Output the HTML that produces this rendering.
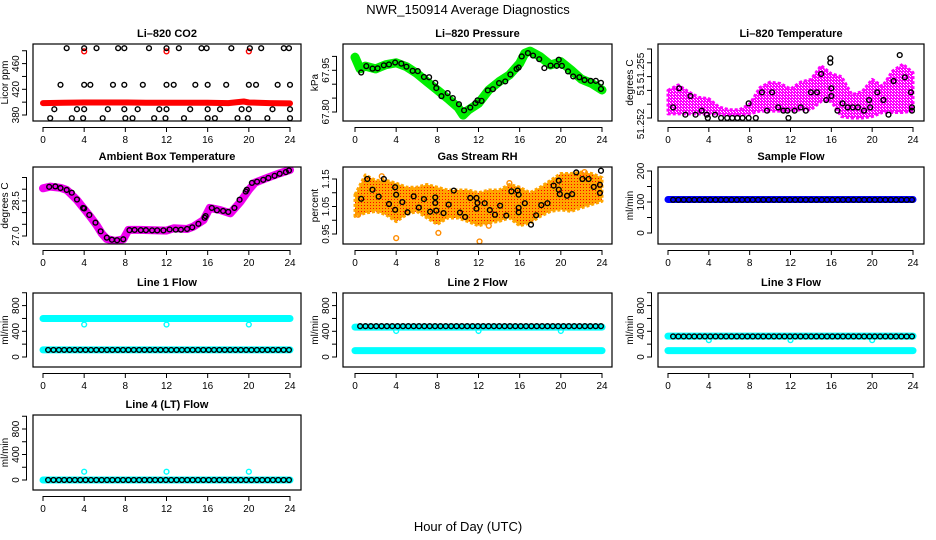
<!DOCTYPE html>
<html><head><meta charset="utf-8">
<style>
html,body{margin:0;padding:0;background:#fff;}
svg{display:block;font-family:"Liberation Sans",sans-serif;}
</style></head>
<body>
<svg id="chart" width="936" height="540" viewBox="0 0 936 540" xmlns="http://www.w3.org/2000/svg">
<defs>
<pattern id="rhpat" width="3" height="3" patternUnits="userSpaceOnUse"><rect width="3" height="3" fill="#ffa500"/><rect x="1" y="1" width="1" height="1" fill="#ff0000"/></pattern>
<pattern id="ltpat" width="3" height="3" patternUnits="userSpaceOnUse"><rect width="3" height="3" fill="#ff00ff"/><rect x="1" y="1" width="1" height="1" fill="#ffffff"/><rect x="0" y="0" width="1" height="1" fill="#ffffff"/></pattern>
</defs>
<text x="468" y="14" text-anchor="middle" font-size="13">NWR_150914  Average Diagnostics</text>
<text x="468" y="531" text-anchor="middle" font-size="13">Hour of Day (UTC)</text>
</svg>
<script>
// ---- data ----
const xTicks=[0,4,8,12,16,20,24];
// CO2
const co2RedHours=[0,2,4,6,8,10,12,14,16,18,19.5,20,22,24];
const co2RedVals=[398.5,399,399.5,399.5,399.5,399,399,399,399,398.5,401,399.5,398.5,398];
const co2RedSpikeHours=[4,12,20];
const co2RedSpikeVals=[479,479,479];
const co2BlkHours=[2.3,4.0,5.2,7.3,7.9,10.3,12.0,13.2,15.4,15.9,18.3,20.1,21.2,23.4,23.9,
1.7,4.0,4.6,6.8,7.9,9.7,12.0,12.7,14.8,16.0,17.8,20.0,20.7,22.8,24.0,
1.1,3.3,4.0,6.3,7.9,9.2,11.3,12.0,14.3,16.0,17.2,19.3,20.0,22.3,24.0,
0.7,2.8,3.9,5.8,8.0,8.7,10.8,11.9,13.7,16.0,16.7,18.9,19.9,21.8,24.0];
const co2BlkVals=[484,484,484,484,484,484,484,484,484,484,484,484,484,484,484,
427,427,427,427,427,427,427,427,427,427,427,427,427,427,427,
389,389,389,389,389,389,389,389,389,389,389,389,389,389,389,
375,375,375,375,375,375,375,375,375,375,375,375,375,375,375];
// Pressure
const presHours=[0,0.5,1,2,3,4,5,6,7,8,9,10,10.5,11,12,13,14,15,16,16.5,17,18,19,20,21,22,23,24];
const presVals=[67.997,67.955,67.965,67.955,67.97,67.977,67.963,67.939,67.909,67.879,67.849,67.817,67.789,67.807,67.831,67.879,67.909,67.933,67.975,68.011,68.019,67.999,67.969,67.981,67.951,67.918,67.903,67.879];
const presBlkHours=[0.6,1.1,1.7,2.2,2.8,3.3,3.9,4.5,5.0,5.6,6.1,6.7,7.2,7.8,7.9,8.4,9.0,9.5,10.1,10.6,11.2,11.7,11.9,12.3,12.9,13.4,14.0,14.6,15.1,15.7,15.9,16.2,16.8,17.3,17.9,18.4,19.0,19.6,19.8,20.1,20.7,21.2,21.8,22.3,22.9,23.4,23.9,23.9];
const presBlkVals=[67.942,67.965,67.956,67.957,67.968,67.971,67.978,67.974,67.963,67.948,67.947,67.926,67.925,67.905,67.886,67.857,67.868,67.85,67.828,67.806,67.816,67.832,67.842,67.84,67.878,67.882,67.904,67.91,67.935,67.955,67.96,68.0,68.012,68.003,67.99,67.958,67.967,67.966,67.988,67.966,67.946,67.928,67.925,67.915,67.912,67.912,67.905,67.883];
// Li-820 temperature (offset from 51.252, milli-degC)
const ltHours=[0,1,2,3,4,5,6,7,8,9,10,11,12,13,14,15,16,17,18,19,20,21,22,23,24];
const ltUpper=[2.0,2.4,1.9,1.5,1.4,0.8,0.6,0.6,1.0,2.2,2.6,2.5,2.1,2.6,2.8,3.8,3.2,3.0,1.7,1.9,2.8,2.3,3.4,3.9,3.3];
const ltLower=[0.3,0.3,0.3,0.3,0.3,0.3,0.2,0.2,0.3,0.5,0.5,0.5,0.5,0.6,0.6,1.2,1.2,0.1,0.0,0.0,0.1,0.4,0.4,0.4,0.5];
const ltBlkHours=[0.5,1.1,2.2,1.7,2.7,3.3,3.8,3.9,4.6,5.2,5.8,6.3,6.8,7.3,7.9,7.9,8.6,9.2,9.7,10.2,10.8,11.3,11.7,11.8,12.4,13.0,13.5,14.0,14.6,15.0,15.5,15.9,15.9,16.0,16.0,16.6,17.1,17.6,18.1,18.6,19.2,19.7,19.8,20.5,21.1,21.6,22.1,22.7,23.2,23.8,23.9,23.9];
const ltBlkVals=[0.77,2.15,1.59,0.24,0.24,0.53,0.24,0.0,0.24,0.0,0.0,0.0,0.0,0.0,0.0,1.06,0.0,1.86,0.53,1.86,0.77,0.53,0.53,0.0,0.53,0.77,0.53,1.86,1.86,3.19,1.3,4.32,4.01,2.15,1.59,0.53,1.06,0.77,0.77,0.77,0.53,1.3,0.77,1.86,1.3,0.24,2.68,4.56,2.95,1.86,0.77,0.53];
// Ambient box temperature
const ambHours=[0,0.7,1.7,2.3,3.3,3.9,4.6,5.2,5.7,6.2,7.0,7.8,8.3,9.4,12.0,12.7,14.0,14.6,15.6,16.2,17.2,18.2,19.2,20.0,20.6,21.7,23.0,24.0];
const ambVals=[29.04,29.11,29.06,28.97,28.54,28.21,27.83,27.47,27.11,26.87,26.79,26.86,27.26,27.26,27.23,27.33,27.3,27.4,27.68,28.2,28.11,27.97,28.47,28.97,29.28,29.47,29.68,29.82];
const ambBlkHours=[0.6,1.2,1.7,2.3,2.8,3.3,3.9,4.0,4.5,5.1,5.6,6.2,6.7,7.2,7.8,8.4,8.9,9.5,10.0,10.6,11.1,11.7,12.3,12.9,13.4,14.0,14.5,15.1,15.7,15.8,16.4,16.9,17.5,18.0,18.6,19.1,19.7,19.8,20.3,20.8,21.4,21.9,22.5,23.0,23.6,23.9];
const ambBlkVals=[29.1,29.12,29.05,28.97,28.85,28.56,28.2,28.18,27.9,27.57,27.2,26.93,26.84,26.82,26.86,27.25,27.26,27.25,27.25,27.24,27.24,27.24,27.28,27.27,27.27,27.3,27.37,27.52,27.78,27.85,28.2,28.1,28.07,28.03,28.2,28.55,28.9,28.98,29.27,29.32,29.4,29.48,29.57,29.66,29.73,29.8];
// Gas stream RH
const rhHours=[0,1,2,3,4,5,6,7,8,9,10,11,12,13,14,15,16,17,18,19,20,21,22,23,24];
const rhUpper=[1.093,1.165,1.145,1.145,1.135,1.12,1.12,1.13,1.12,1.11,1.11,1.11,1.1,1.11,1.11,1.13,1.12,1.1,1.12,1.145,1.17,1.17,1.175,1.17,1.155];
const rhLower=[1.014,1.026,1.032,1.02,0.995,1.02,1.032,1.008,0.985,1.008,1.008,0.995,0.98,0.99,0.996,1.008,0.98,0.99,1.014,1.032,1.038,1.032,1.045,1.057,1.069];
const rhOutHours=[4.0,8.1,12.1,0.3,2.6,13.0,15.0,22.3];
const rhOutVals=[0.935,0.954,0.923,1.02,1.16,0.98,1.135,1.175];
const rhBlkHours=[0.6,1.2,1.7,2.3,2.8,3.3,3.9,3.9,4.0,4.6,5.1,5.7,6.2,6.7,7.3,7.8,7.8,7.9,8.6,9.1,9.6,10.2,10.7,11.2,11.8,11.9,11.8,12.6,13.1,13.6,14.1,14.7,15.2,15.8,15.9,15.9,15.9,16.5,17.1,17.6,18.1,18.7,19.3,19.8,19.8,19.9,20.6,21.1,21.5,22.1,22.7,23.2,23.9,23.8,23.8];
const rhBlkVals=[1.078,1.15,1.111,1.086,1.15,1.059,1.12,1.038,1.093,1.066,1.029,1.087,1.046,1.077,1.031,1.083,1.063,1.035,1.026,1.057,1.108,1.028,1.012,1.081,1.081,1.063,1.042,1.062,1.037,1.02,1.053,1.017,1.105,1.108,1.093,1.045,1.029,1.062,0.984,1.018,1.055,1.062,1.126,1.144,1.111,1.095,1.089,1.095,1.174,1.15,1.15,1.121,1.18,1.129,1.099];
// Flows (ml/min)
const sampleBlue=108, sampleBlack=107;
const line1Cyan=600, line1CyanLow=110, line1Black=110, line1Dip=505;
const line2CyanHigh=465, line2CyanLow=100, line2Black=480, line2Dip=405;
const line3CyanHigh=325, line3CyanLow=100, line3Black=320, line3Dip=262;
const line4Cyan=0, line4Black=0, line4Dip=130;
const dipHours=[4,12,20];

// ---- drawing ----
const NS='http://www.w3.org/2000/svg';
const svg=document.getElementById('chart');
const defs=svg.querySelector('defs');
function el(tag,attrs,parent){const e=document.createElementNS(NS,tag);for(const k in attrs)e.setAttribute(k,attrs[k]);(parent||svg).appendChild(e);return e;}
const COLS=[{l:33,r:301,x0:43,x24:290},{l:343,r:612,x0:355,x24:602},{l:658,r:924,x0:668,x24:913}];
const ROWS=[{t:44,b:121},{t:167,b:244},{t:293,b:367},{t:415,b:490}];
let clipN=0;
function panel(name,title,col,row,v1,y1,v2,y2,yTicks,yLabels,yTitle){
  const C=COLS[col],R=ROWS[row];
  const g=el('g',{});
  
  
  const sx=h=>C.x0+(C.x24-C.x0)*h/24;
  const sy=v=>y1+(v-v1)*(y2-y1)/(v2-v1);
  const t=el('text',{x:(C.l+C.r)/2,y:R.t-7,'text-anchor':'middle','font-size':'11','font-weight':'bold'},g);
  t.textContent=title;
  
  
  const xa=el('g',{stroke:'#000','stroke-width':1},g);
  
  
  el('line',{x1:sx(0),x2:sx(24),y1:R.b+6.5,y2:R.b+6.5},xa);
  xTicks.forEach(h=>{
    el('line',{x1:sx(h),x2:sx(h),y1:R.b+6,y2:R.b+11},xa);
    const lt=el('text',{x:sx(h),y:R.b+22,'text-anchor':'middle','font-size':'10',stroke:'none'},g);
    lt.textContent=h;
    
    
  });
  const ya=el('g',{stroke:'#000','stroke-width':1},g);
  
  
  el('line',{x1:C.l-6.5,x2:C.l-6.5,y1:sy(yTicks[0]),y2:sy(yTicks[yTicks.length-1])},ya);
  yTicks.forEach(v=>el('line',{x1:C.l-11,x2:C.l-6,y1:sy(v),y2:sy(v)},ya));
  yLabels.forEach(lb=>{
    const yy=lb.y!==undefined?lb.y:sy(lb.v);
    const lt=el('text',{x:C.l-14,y:yy,'text-anchor':'middle','font-size':'10',transform:`rotate(-90 ${C.l-14} ${yy})`},g);
    lt.textContent=lb.t;
    
    
  });
  const yt=el('text',{x:C.l-25,y:(R.t+R.b)/2,'text-anchor':'middle','font-size':'10',transform:`rotate(-90 ${C.l-25} ${(R.t+R.b)/2})`},g);
  yt.textContent=yTitle;
  
  
  const cid='clip'+(clipN++);
  const cp=el('clipPath',{id:cid},defs);
  el('rect',{x:C.l,y:R.t,width:C.r-C.l,height:R.b-R.t},cp);
  const plot=el('g',{'clip-path':`url(#${cid})`},g);
  
  
  el('rect',{x:C.l,y:R.t,width:C.r-C.l,height:R.b-R.t,fill:'none',stroke:'#000','stroke-width':1.2},g);
  return {sx,sy,plot,C,R};
}
function pts(P,hs,vs){return hs.map((h,i)=>P.sx(h).toFixed(1)+','+P.sy(vs[i]).toFixed(1)).join(' ');}
function band(P,hs,vs,color,w,name){
  const p=el('polyline',{points:pts(P,hs,vs),fill:'none',stroke:color,'stroke-width':w,'stroke-linejoin':'round','stroke-linecap':'round'},P.plot);
  
  
}
function area(P,hs,up,lo,fill,edge,name){
  const a=hs.map((h,i)=>P.sx(h).toFixed(1)+','+P.sy(up[i]).toFixed(1));
  const b=hs.map((h,i)=>P.sx(h).toFixed(1)+','+P.sy(lo[i]).toFixed(1)).reverse();
  const p=el('polygon',{points:a.concat(b).join(' '),fill:fill,stroke:edge,'stroke-width':3,'stroke-linejoin':'round','stroke-dasharray':'3 2'},P.plot);
  
  
}
function circles(P,hs,vs,color,name,r){
  hs.forEach((h,i)=>{
    const c=el('circle',{cx:P.sx(h),cy:P.sy(vs[i]),r:r||2.4,fill:'none',stroke:color,'stroke-width':1.4},P.plot);
    
    
  });
}
function constSeries(P,v,color,name){band(P,[0,24],[v,v],color,7,name);}
function constCircles(P,v,color,name){
  const hs=[];for(let h=0.5;h<=23.95;h+=0.52)hs.push(h);
  circles(P,hs,hs.map(()=>v),color,name);
}

let P=panel('co2','Li\u2013820 CO2',0,0,380,115,460,63.6,[380,400,420,440,460,480],[{v:380,t:'380'},{v:420,t:'420'},{v:460,t:'460'}],'Licor ppm');
band(P,co2RedHours,co2RedVals,'#ff0000',6,'co2-red-series');
circles(P,co2RedSpikeHours,co2RedSpikeVals,'#ff0000','co2-red-point');
circles(P,co2BlkHours,co2BlkVals,'#000','co2-black-point');

P=panel('pressure','Li\u2013820 Pressure',1,0,67.80,112,67.95,70.3,[67.80,67.85,67.90,67.95,68.00],[{v:67.80,t:'67.80'},{v:67.95,t:'67.95'}],'kPa');
band(P,presHours,presVals,'#00ee00',9,'pressure-green-series');
circles(P,presBlkHours,presBlkVals,'#000','pressure-black-point');

P=panel('li-temp','Li\u2013820 Temperature',2,0,0,118,1,104.2,[0,1,2,3,4,5],[{y:124,t:'51.252'},{y:90,t:'51'},{y:68,t:'51.255'}],'degrees C');
area(P,ltHours,ltUpper,ltLower,'url(#ltpat)','#ff00ff','li-temp-magenta-series');
circles(P,ltBlkHours,ltBlkVals,'#000','li-temp-black-point');

P=panel('ambient','Ambient Box Temperature',0,1,27.0,236,28.5,200.9,[27,27.5,28,28.5,29,29.5],[{v:27,t:'27.0'},{v:28.5,t:'28.5'}],'degrees C');
band(P,ambHours,ambVals,'#ee00ee',8,'ambient-magenta-series');
circles(P,ambBlkHours,ambBlkVals,'#000','ambient-black-point');

P=panel('rh','Gas Stream RH',1,1,0.95,234,1.15,179,[0.95,1.00,1.05,1.10,1.15],[{v:0.95,t:'0.95'},{v:1.05,t:'1.05'},{v:1.15,t:'1.15'}],'percent');
area(P,rhHours,rhUpper,rhLower,'url(#rhpat)','#ffa500','rh-orange-series');
circles(P,rhOutHours,rhOutVals,'#ff8c00','rh-orange-point');
circles(P,rhBlkHours,rhBlkVals,'#000','rh-black-point');

P=panel('sample-flow','Sample Flow',2,1,0,233,200,171,[0,50,100,150,200],[{v:0,t:'0'},{v:100,t:'100'},{v:200,t:'200'}],'ml/min');
constSeries(P,sampleBlue,'#0000ff','sample-flow-blue-series');
constCircles(P,sampleBlack,'#000','sample-flow-black-point');
const flowTicks=[0,200,400,600,800,1000];
const flowLabels=[{v:0,t:'0'},{v:400,t:'400'},{v:800,t:'800'}];

P=panel('line1-flow','Line 1 Flow',0,2,0,357,800,305.6,flowTicks,flowLabels,'ml/min');
constSeries(P,line1Cyan,'#00ffff','line1-cyan-series');
constSeries(P,line1CyanLow,'#00ffff','line1-cyan-low-series');
circles(P,dipHours,dipHours.map(()=>line1Dip),'#00ffff','line1-cyan-dip');
constCircles(P,line1Black,'#000','line1-black-point');

P=panel('line2-flow','Line 2 Flow',1,2,0,357,800,305.6,flowTicks,flowLabels,'ml/min');
constSeries(P,line2CyanHigh,'#00ffff','line2-cyan-series');
constSeries(P,line2CyanLow,'#00ffff','line2-cyan-low-series');
circles(P,dipHours,dipHours.map(()=>line2Dip),'#00ffff','line2-cyan-dip');
constCircles(P,line2Black,'#000','line2-black-point');

P=panel('line3-flow','Line 3 Flow',2,2,0,357,800,305.6,flowTicks,flowLabels,'ml/min');
constSeries(P,line3CyanHigh,'#00ffff','line3-cyan-series');
constSeries(P,line3CyanLow,'#00ffff','line3-cyan-low-series');
circles(P,dipHours,dipHours.map(()=>line3Dip),'#00ffff','line3-cyan-dip');
constCircles(P,line3Black,'#000','line3-black-point');

P=panel('line4-flow','Line 4 (LT) Flow',0,3,0,480,800,429,flowTicks,flowLabels,'ml/min');
constSeries(P,line4Cyan,'#00ffff','line4-cyan-series');
circles(P,dipHours,dipHours.map(()=>line4Dip),'#00ffff','line4-cyan-dip');
constCircles(P,line4Black,'#000','line4-black-point');
</script>
</body></html>
